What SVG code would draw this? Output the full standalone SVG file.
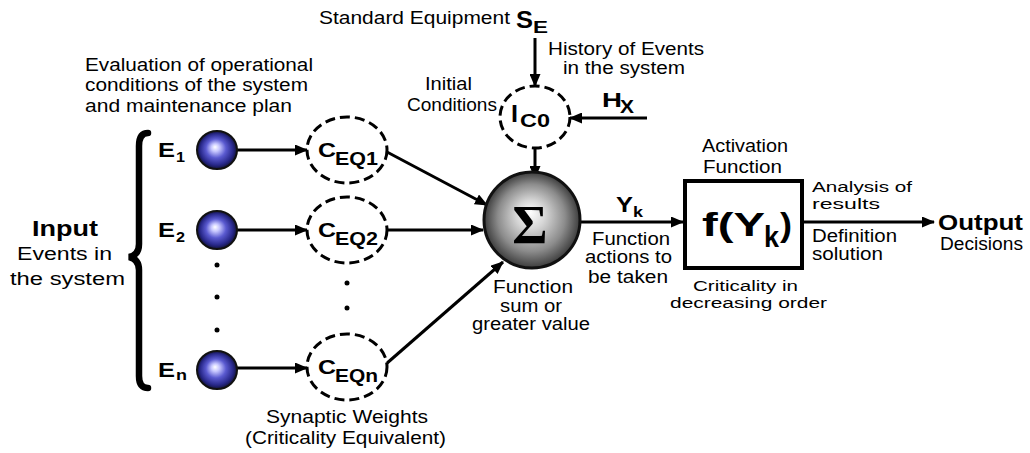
<svg xmlns="http://www.w3.org/2000/svg" width="1030" height="453" viewBox="0 0 1030 453">
<style>
.t{font-family:"Liberation Sans",Arial,sans-serif;font-size:17.5px;fill:#000}
.s{font-family:"Liberation Sans",Arial,sans-serif;font-size:15.5px;fill:#000}
.b{font-family:"Liberation Sans",Arial,sans-serif;font-weight:bold;fill:#000}
.ln{stroke:#000;stroke-width:3;fill:none}
.dash{fill:#fff;stroke:#000;stroke-width:3;stroke-dasharray:10 5}
.sph{fill:url(#sphg);stroke:#111;stroke-width:2}
.dot{fill:#000}
</style>
<defs>
<radialGradient id="sphg" cx="0.5" cy="0.5" r="0.5" fx="0.45" fy="0.42">
<stop offset="0" stop-color="#ffffff"/>
<stop offset="0.2" stop-color="#c8c8ff"/>
<stop offset="0.5" stop-color="#5a5ad0"/>
<stop offset="0.82" stop-color="#28288a"/>
<stop offset="1" stop-color="#12123a"/>
</radialGradient>
<radialGradient id="sigg" cx="0.5" cy="0.5" r="0.5" fx="0.48" fy="0.42">
<stop offset="0" stop-color="#ffffff"/>
<stop offset="0.3" stop-color="#d6d6d6"/>
<stop offset="0.7" stop-color="#8c8c8c"/>
<stop offset="1" stop-color="#3c3c3c"/>
</radialGradient>
<marker id="ah" markerUnits="userSpaceOnUse" markerWidth="13" markerHeight="11" refX="12" refY="5.5" orient="auto">
<path d="M0,0 L13,5.5 L0,11 z" fill="#000"/>
</marker>
</defs>
<rect width="1030" height="453" fill="#fff"/>

<g id="connectors">
<line class="ln" x1="237" y1="150" x2="307" y2="150" marker-end="url(#ah)"/>
<line class="ln" x1="237" y1="230" x2="307" y2="230" marker-end="url(#ah)"/>
<line class="ln" x1="237" y1="368" x2="307" y2="368" marker-end="url(#ah)"/>
<line class="ln" x1="387" y1="152" x2="487" y2="205" marker-end="url(#ah)"/>
<line class="ln" x1="387" y1="230" x2="483" y2="230" marker-end="url(#ah)"/>
<line class="ln" x1="386" y1="364" x2="503" y2="262" marker-end="url(#ah)"/>
<line class="ln" x1="535" y1="38" x2="535" y2="86" marker-end="url(#ah)"/>
<line class="ln" x1="647" y1="118" x2="570" y2="118" marker-end="url(#ah)"/>
<line class="ln" x1="535" y1="148" x2="535" y2="178" marker-end="url(#ah)"/>
<line class="ln" x1="580" y1="222" x2="683" y2="222" marker-end="url(#ah)"/>
<line class="ln" x1="804" y1="222" x2="934" y2="222" marker-end="url(#ah)"/>
</g>

<g id="brace">
<path d="M148,133 Q139,133 139,146 L139,244 Q139,255 129,257 Q139,259 139,270 L139,376 Q139,388 148,388" fill="none" stroke="#000" stroke-width="6.5" stroke-linecap="round"/>
</g>

<g id="input-label">
<text class="b" x="32" y="236" font-size="22" textLength="66" lengthAdjust="spacingAndGlyphs">Input</text>
<text class="t" x="17" y="260" textLength="95" lengthAdjust="spacingAndGlyphs">Events in</text>
<text class="t" x="10" y="285" textLength="115" lengthAdjust="spacingAndGlyphs">the system</text>
</g>

<g id="evaluation-label">
<text class="t" x="85" y="71" textLength="228" lengthAdjust="spacingAndGlyphs">Evaluation of operational</text>
<text class="t" x="85" y="91" textLength="223" lengthAdjust="spacingAndGlyphs">conditions of the system</text>
<text class="t" x="85" y="112" textLength="207" lengthAdjust="spacingAndGlyphs">and maintenance plan</text>
</g>

<g id="E1">
<ellipse class="sph" cx="217" cy="150" rx="20" ry="19"/>
<text class="b" x="158" y="157" font-size="20" textLength="17" lengthAdjust="spacingAndGlyphs">E</text>
<text class="b" x="176" y="162" font-size="14" textLength="9" lengthAdjust="spacingAndGlyphs">1</text>
</g>
<g id="E2">
<ellipse class="sph" cx="217" cy="230" rx="20" ry="19"/>
<text class="b" x="158" y="237" font-size="20" textLength="17" lengthAdjust="spacingAndGlyphs">E</text>
<text class="b" x="176" y="242" font-size="14" textLength="9" lengthAdjust="spacingAndGlyphs">2</text>
</g>
<g id="En">
<ellipse class="sph" cx="217" cy="370" rx="20" ry="19"/>
<text class="b" x="158" y="377" font-size="20" textLength="17" lengthAdjust="spacingAndGlyphs">E</text>
<text class="b" x="176" y="380" font-size="15" textLength="11" lengthAdjust="spacingAndGlyphs">n</text>
</g>
<g id="dots-e">
<circle class="dot" cx="217" cy="265" r="2.5"/>
<circle class="dot" cx="217" cy="297" r="2.5"/>
<circle class="dot" cx="217" cy="330" r="2.5"/>
</g>

<g id="CEQ1">
<ellipse class="dash" cx="347" cy="150" rx="40" ry="33"/>
<text class="b" x="318" y="157" font-size="21" textLength="18" lengthAdjust="spacingAndGlyphs">C</text>
<text class="b" x="335" y="165" font-size="18" textLength="43" lengthAdjust="spacingAndGlyphs">EQ1</text>
</g>
<g id="CEQ2">
<ellipse class="dash" cx="347" cy="230" rx="40" ry="33"/>
<text class="b" x="318" y="237" font-size="21" textLength="18" lengthAdjust="spacingAndGlyphs">C</text>
<text class="b" x="335" y="245" font-size="18" textLength="43" lengthAdjust="spacingAndGlyphs">EQ2</text>
</g>
<g id="CEQn">
<ellipse class="dash" cx="347" cy="367" rx="40" ry="33"/>
<text class="b" x="318" y="374" font-size="21" textLength="18" lengthAdjust="spacingAndGlyphs">C</text>
<text class="b" x="335" y="382" font-size="18" textLength="43" lengthAdjust="spacingAndGlyphs">EQn</text>
</g>
<g id="dots-c">
<circle class="dot" cx="347" cy="283" r="2.5"/>
<circle class="dot" cx="347" cy="308" r="2.5"/>
</g>
<g id="synaptic-label">
<text class="t" x="266" y="423" textLength="162" lengthAdjust="spacingAndGlyphs">Synaptic Weights</text>
<text class="t" x="245" y="444" textLength="201" lengthAdjust="spacingAndGlyphs">(Criticality Equivalent)</text>
</g>

<g id="SE">
<text class="t" x="319" y="24" textLength="191" lengthAdjust="spacingAndGlyphs">Standard Equipment</text>
<text class="b" x="516" y="28" font-size="23" textLength="17" lengthAdjust="spacingAndGlyphs">S</text>
<text class="b" x="533" y="33" font-size="17" textLength="15" lengthAdjust="spacingAndGlyphs">E</text>
</g>

<g id="HX">
<text class="t" x="548" y="55" textLength="156" lengthAdjust="spacingAndGlyphs">History of Events</text>
<text class="t" x="563" y="74" textLength="122" lengthAdjust="spacingAndGlyphs">in the system</text>
<text class="b" x="602" y="107" font-size="21" textLength="20" lengthAdjust="spacingAndGlyphs">H</text>
<text class="b" x="620" y="113" font-size="18" textLength="14" lengthAdjust="spacingAndGlyphs">X</text>
</g>

<g id="IC0">
<text class="t" x="425" y="90" textLength="47" lengthAdjust="spacingAndGlyphs">Initial</text>
<text class="t" x="407" y="111" textLength="90" lengthAdjust="spacingAndGlyphs">Conditions</text>
<ellipse class="dash" cx="535" cy="117" rx="35" ry="31"/>
<text class="b" x="511" y="122" font-size="24" textLength="7" lengthAdjust="spacingAndGlyphs">I</text>
<text class="b" x="520" y="127" font-size="18" textLength="30" lengthAdjust="spacingAndGlyphs">C0</text>
</g>

<g id="sigma">
<circle cx="532" cy="220" r="48" fill="url(#sigg)" stroke="#111" stroke-width="3"/>
<text x="530" y="243" text-anchor="middle" font-family="'Liberation Serif','Times New Roman',serif" font-weight="bold" font-size="54" fill="#000">Σ</text>
<text class="t" x="493" y="293" textLength="80" lengthAdjust="spacingAndGlyphs">Function</text>
<text class="t" x="500" y="312" textLength="62" lengthAdjust="spacingAndGlyphs">sum or</text>
<text class="t" x="472" y="330" textLength="118" lengthAdjust="spacingAndGlyphs">greater value</text>
</g>

<g id="Yk">
<text class="b" x="616" y="212" font-size="22" textLength="17" lengthAdjust="spacingAndGlyphs">Y</text>
<text class="b" x="633" y="217" font-size="15" textLength="10" lengthAdjust="spacingAndGlyphs">k</text>
<text class="t" x="592" y="245" textLength="78" lengthAdjust="spacingAndGlyphs">Function</text>
<text class="t" x="585" y="263" textLength="87" lengthAdjust="spacingAndGlyphs">actions to</text>
<text class="t" x="588" y="283" textLength="80" lengthAdjust="spacingAndGlyphs">be taken</text>
</g>

<g id="activation">
<text class="t" x="702" y="152" textLength="86" lengthAdjust="spacingAndGlyphs">Activation</text>
<text class="t" x="703" y="173" textLength="79" lengthAdjust="spacingAndGlyphs">Function</text>
<rect x="685" y="181" width="117" height="87" fill="#fff" stroke="#000" stroke-width="4"/>
<text class="b" x="702" y="236" font-size="34" textLength="63" lengthAdjust="spacingAndGlyphs">f(Y</text>
<text class="b" x="764" y="247" font-size="29" textLength="15" lengthAdjust="spacingAndGlyphs">k</text>
<text class="b" x="780" y="236" font-size="34" textLength="12" lengthAdjust="spacingAndGlyphs">)</text>
<text class="s" x="693" y="291" textLength="105" lengthAdjust="spacingAndGlyphs">Criticality in</text>
<text class="s" x="670" y="308" textLength="157" lengthAdjust="spacingAndGlyphs">decreasing order</text>
</g>

<g id="output">
<text class="s" x="812" y="192" textLength="100" lengthAdjust="spacingAndGlyphs">Analysis of</text>
<text class="s" x="812" y="209" textLength="68" lengthAdjust="spacingAndGlyphs">results</text>
<text class="t" x="812" y="242" textLength="85" lengthAdjust="spacingAndGlyphs">Definition</text>
<text class="t" x="812" y="260" textLength="71" lengthAdjust="spacingAndGlyphs">solution</text>
<text class="b" x="938" y="230" font-size="22" textLength="85" lengthAdjust="spacingAndGlyphs">Output</text>
<text class="t" x="940" y="250" textLength="83" lengthAdjust="spacingAndGlyphs">Decisions</text>
</g>
</svg>
